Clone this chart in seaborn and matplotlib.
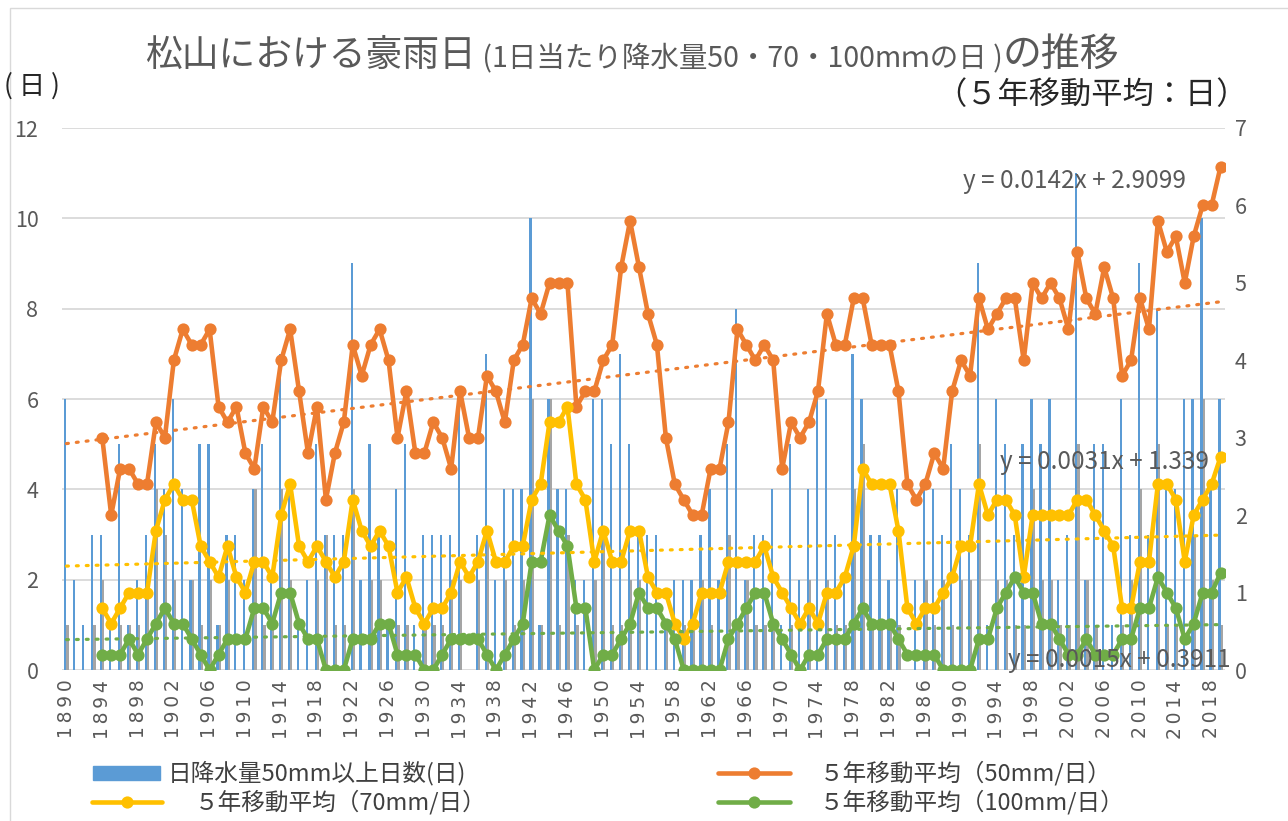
import numpy as np
import pandas as pd
import matplotlib
matplotlib.use("Agg")
import matplotlib.pyplot as plt
import seaborn as sns
from matplotlib.lines import Line2D
from matplotlib.patches import Rectangle

W, H = 1288, 821

# ---- data -------------------------------------------------------------
years = list(range(1890, 2020))
ma_years = list(range(1894, 2020))

# days with >= 50 mm (blue bars, left axis)
days50 = [6, 2, 1, 3, 3, 1, 5, 1, 2, 3,
          5, 4, 6, 4, 2, 5, 5, 1, 3, 3,
          2, 4, 5, 2, 7, 4, 1, 2, 5, 3,
          3, 3, 9, 2, 5, 3, 1, 4, 5, 1,
          3, 3, 3, 3, 6, 0, 3, 7, 2, 4,
          4, 4, 10, 1, 6, 4, 4, 2, 2, 6,
          6, 5, 7, 5, 3, 3, 3, 1, 2, 2,
          2, 3, 4, 2, 5, 8, 2, 3, 3, 4,
          1, 5, 2, 4, 6, 6, 3, 2, 7, 6,
          3, 3, 2, 4, 0, 2, 4, 4, 3, 5,
          4, 3, 9, 1, 6, 5, 3, 5, 6, 5,
          6, 2, 3, 11, 2, 5, 5, 1, 6, 3,
          9, 3, 8, 4, 4, 6, 6, 10, 4, 6]

# days with >= 70 mm (grey bars, left axis)
days70 = [1, 0, 0, 1, 2, 0, 1, 1, 1, 2,
          4, 3, 2, 0, 2, 1, 2, 1, 2, 0,
          0, 4, 1, 1, 4, 2, 0, 0, 2, 3,
          1, 1, 4, 0, 2, 2, 0, 1, 1, 0,
          1, 1, 1, 2, 2, 0, 2, 3, 0, 2,
          1, 2, 6, 1, 6, 1, 3, 1, 0, 2,
          3, 1, 1, 2, 2, 0, 0, 1, 0, 1,
          1, 2, 1, 0, 3, 1, 2, 1, 1, 1,
          0, 1, 0, 2, 0, 2, 1, 1, 4, 5,
          1, 1, 1, 1, 0, 0, 2, 1, 2, 1,
          2, 2, 5, 0, 2, 2, 1, 1, 4, 2,
          2, 1, 1, 5, 2, 1, 0, 0, 1, 2,
          4, 0, 5, 1, 1, 0, 3, 6, 2, 1]

# 5-year moving averages (right axis)
ma50 = [3.0, 2.0, 2.6, 2.6, 2.4, 2.4,
        3.2, 3.0, 4.0, 4.4, 4.2, 4.2, 4.4, 3.4, 3.2, 3.4,
        2.8, 2.6, 3.4, 3.2, 4.0, 4.4, 3.6, 2.8, 3.4, 2.2,
        2.8, 3.2, 4.2, 3.8, 4.2, 4.4, 4.0, 3.0, 3.6, 2.8,
        2.8, 3.2, 3.0, 2.6, 3.6, 3.0, 3.0, 3.8, 3.6, 3.2,
        4.0, 4.2, 4.8, 4.6, 5.0, 5.0, 5.0, 3.4, 3.6, 3.6,
        4.0, 4.2, 5.2, 5.8, 5.2, 4.6, 4.2, 3.0, 2.4, 2.2,
        2.0, 2.0, 2.6, 2.6, 3.2, 4.4, 4.2, 4.0, 4.2, 4.0,
        2.6, 3.2, 3.0, 3.2, 3.6, 4.6, 4.2, 4.2, 4.8, 4.8,
        4.2, 4.2, 4.2, 3.6, 2.4, 2.2, 2.4, 2.8, 2.6, 3.6,
        4.0, 3.8, 4.8, 4.4, 4.6, 4.8, 4.8, 4.0, 5.0, 4.8,
        5.0, 4.8, 4.4, 5.4, 4.8, 4.6, 5.2, 4.8, 3.8, 4.0,
        4.8, 4.4, 5.8, 5.4, 5.6, 5.0, 5.6, 6.0, 6.0, 6.5]

ma70 = [0.8, 0.6, 0.8, 1.0, 1.0, 1.0,
        1.8, 2.2, 2.4, 2.2, 2.2, 1.6, 1.4, 1.2, 1.6, 1.2,
        1.0, 1.4, 1.4, 1.2, 2.0, 2.4, 1.6, 1.4, 1.6, 1.4,
        1.2, 1.4, 2.2, 1.8, 1.6, 1.8, 1.6, 1.0, 1.2, 0.8,
        0.6, 0.8, 0.8, 1.0, 1.4, 1.2, 1.4, 1.8, 1.4, 1.4,
        1.6, 1.6, 2.2, 2.4, 3.2, 3.2, 3.4, 2.4, 2.2, 1.4,
        1.8, 1.4, 1.4, 1.8, 1.8, 1.2, 1.0, 1.0, 0.6, 0.4,
        0.6, 1.0, 1.0, 1.0, 1.4, 1.4, 1.4, 1.4, 1.6, 1.2,
        1.0, 0.8, 0.6, 0.8, 0.6, 1.0, 1.0, 1.2, 1.6, 2.6,
        2.4, 2.4, 2.4, 1.8, 0.8, 0.6, 0.8, 0.8, 1.0, 1.2,
        1.6, 1.6, 2.4, 2.0, 2.2, 2.2, 2.0, 1.2, 2.0, 2.0,
        2.0, 2.0, 2.0, 2.2, 2.2, 2.0, 1.8, 1.6, 0.8, 0.8,
        1.4, 1.4, 2.4, 2.4, 2.2, 1.4, 2.0, 2.2, 2.4, 2.75]

ma100 = [0.2, 0.2, 0.2, 0.4, 0.2, 0.4,
         0.6, 0.8, 0.6, 0.6, 0.4, 0.2, 0.0, 0.2, 0.4, 0.4,
         0.4, 0.8, 0.8, 0.6, 1.0, 1.0, 0.6, 0.4, 0.4, 0.0,
         0.0, 0.0, 0.4, 0.4, 0.4, 0.6, 0.6, 0.2, 0.2, 0.2,
         0.0, 0.0, 0.2, 0.4, 0.4, 0.4, 0.4, 0.2, 0.0, 0.2,
         0.4, 0.6, 1.4, 1.4, 2.0, 1.8, 1.6, 0.8, 0.8, 0.0,
         0.2, 0.2, 0.4, 0.6, 1.0, 0.8, 0.8, 0.6, 0.4, 0.0,
         0.0, 0.0, 0.0, 0.0, 0.4, 0.6, 0.8, 1.0, 1.0, 0.6,
         0.4, 0.2, 0.0, 0.2, 0.2, 0.4, 0.4, 0.4, 0.6, 0.8,
         0.6, 0.6, 0.6, 0.4, 0.2, 0.2, 0.2, 0.2, 0.0, 0.0,
         0.0, 0.0, 0.4, 0.4, 0.8, 1.0, 1.2, 1.0, 1.0, 0.6,
         0.6, 0.4, 0.2, 0.2, 0.4, 0.2, 0.2, 0.2, 0.4, 0.4,
         0.8, 0.8, 1.2, 1.0, 0.8, 0.4, 0.6, 1.0, 1.0, 1.25]

# linear trend lines as printed on the chart (x = 1 for 1890)
trend_coefs = {"50": (0.0142, 2.9099), "70": (0.0031, 1.339), "100": (0.0015, 0.3911)}
trend_labels = ["y = 0.0142x + 2.9099", "y = 0.0031x + 1.339", "y = 0.0015x + 0.3911"]

BLUE, GREY = "#5B9BD5", "#A5A5A5"
ORANGE, YELLOW, GREEN = "#ED7D31", "#FFC000", "#70AD47"
TXT = "#595959"


def fx(x):
    return x / W


def fy(y):
    return 1 - y / H


sns.set_theme(style="white")
plt.rcParams["font.family"] = ["Noto Sans CJK JP", "DejaVu Sans"]

fig = plt.figure(figsize=(W / 100, H / 100), dpi=100)
ax = fig.add_axes([fx(62), fy(670), (1225 - 62) / W, (670 - 128) / H])

bars = pd.DataFrame({"year": years * 2,
                     "days": days50 + days70,
                     "kind": ["50mm"] * len(years) + ["70mm"] * len(years)})
sns.barplot(data=bars, x="year", y="days", hue="kind", native_scale=True,
            palette={"50mm": BLUE, "70mm": GREY}, width=0.5, dodge=True,
            saturation=1, errorbar=None, legend=False, linewidth=0, ax=ax)

ax.set_xlim(1889.5, 2019.5)
ax.set_ylim(0, 12)
ax.set_yticks(range(0, 13, 2))
ax.set_xticks(years[::4])
ax.set_xticklabels(["\u2009".join(str(y)) for y in years[::4]], rotation=90,
                   fontfamily="DejaVu Sans")
ax.set_xlabel("")
ax.set_ylabel("")
ax.yaxis.grid(True, color="#D9D9D9", lw=1.3)
ax.set_axisbelow(True)
ax.tick_params(axis="y", length=0, pad=17, labelsize=15.5, labelcolor=TXT)
ax.tick_params(axis="x", length=0, pad=7, labelsize=13.5, labelcolor=TXT)
for s in ax.spines.values():
    s.set_visible(False)

ax2 = ax.twinx()
for vals, col in [(ma50, ORANGE), (ma70, YELLOW), (ma100, GREEN)]:
    sns.lineplot(x=ma_years, y=vals, ax=ax2, color=col, lw=3.3, marker="o",
                 markersize=8.8, markeredgewidth=0)

idx = np.array(years) - 1889
for (k, (a, b)), col in zip(trend_coefs.items(), [ORANGE, YELLOW, GREEN]):
    ax2.plot(years, a * idx + b, color=col, lw=2.3, ls=(0, (0.6, 2.5)),
             dash_capstyle="round")

ax2.set_ylim(0, 7)
ax2.set_yticks(range(0, 8))
ax2.set_xlim(1889.5, 2019.5)
ax2.set_ylabel("")
ax2.grid(False)
ax2.tick_params(axis="y", length=0, pad=7, labelsize=15.5, labelcolor=TXT)
for s in ax2.spines.values():
    s.set_visible(False)

# trend equations
for txt, (x, y) in zip(trend_labels, [(963, 181), (1000, 462), (1008, 660)]):
    fig.text(fx(x), fy(y), txt, fontsize=17.5, color=TXT, va="center", ha="left")

# chart border
fig.add_artist(Rectangle((fx(10), -0.1), 1.2, fy(8) + 0.1, transform=fig.transFigure,
                         fill=False, edgecolor="#D9D9D9", lw=1))

# title built from pieces of two sizes
renderer = fig.canvas.get_renderer()
x = 145
for s, size in [("松山における豪雨日", 26.5), (" (1日当たり降水量50・70・100mｍの日 )", 20.5), ("の推移", 28)]:
    t = fig.text(fx(x), fy(66), s, fontsize=size, color=TXT, va="baseline", ha="left")
    x += t.get_window_extent(renderer).width

fig.text(fx(4), fy(86), "( 日 )", fontsize=19, color="#262626", va="center", ha="left")
fig.text(fx(935), fy(95), "（５年移動平均：日）", fontsize=22.5, color="#262626",
         va="center", ha="left")

# legend
LEG = "#404040"
fig.add_artist(Rectangle((fx(93), fy(780)), 67 / W, 14 / H, color=BLUE,
                         transform=fig.transFigure))
fig.text(fx(168), fy(773), "日降水量50mm以上日数(日)", fontsize=17, color=LEG, va="center")
for (x0, x1, y), col, label, tx in [((718, 790, 773), ORANGE, "５年移動平均（50mm/日）", 820),
                                    ((92, 162, 802), YELLOW, "５年移動平均（70mm/日）", 195),
                                    ((718, 790, 802), GREEN, "５年移動平均（100mm/日）", 820)]:
    fig.add_artist(Line2D([fx(x0), fx(x1)], [fy(y), fy(y)], color=col, lw=3.3,
                          transform=fig.transFigure))
    fig.add_artist(Line2D([fx((x0 + x1) / 2)], [fy(y)], color=col, marker="o",
                          markersize=8.8, markeredgewidth=0, transform=fig.transFigure))
    fig.text(fx(tx), fy(y), label, fontsize=17, color=LEG, va="center")

fig.savefig("out.png", dpi=100)
